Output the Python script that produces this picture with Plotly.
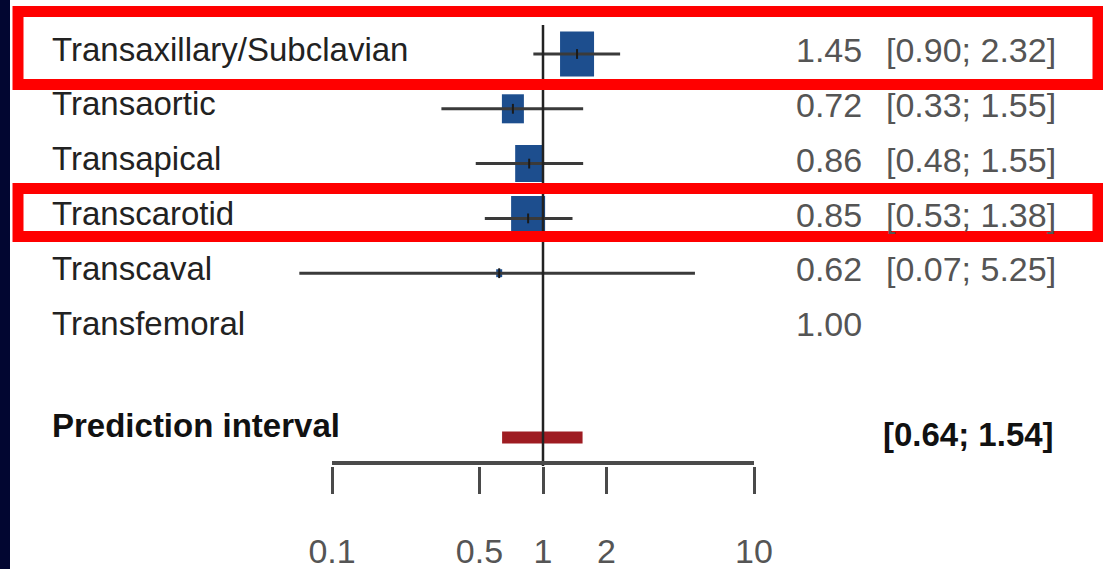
import plotly.graph_objects as go

# ---------------- data ----------------
labels = ["Transaxillary/Subclavian", "Transaortic", "Transapical",
          "Transcarotid", "Transcaval", "Transfemoral"]
est = [1.45, 0.72, 0.86, 0.85, 0.62, 1.00]
ci_lo = [0.90, 0.33, 0.48, 0.53, 0.07, None]
ci_hi = [2.32, 1.55, 1.55, 1.38, 5.25, None]
est_text = ["1.45", "0.72", "0.86", "0.85", "0.62", "1.00"]
ci_text = ["[0.90; 2.32]", "[0.33; 1.55]", "[0.48; 1.55]",
           "[0.53; 1.38]", "[0.07; 5.25]", ""]
weights = [34, 22, 28, 34, 6, 0]          # relative square size
pi_label = "Prediction interval"
pi_lo = 0.64
pi_hi = 1.54
pi_text = "[0.64; 1.54]"
tick_vals = [0.1, 0.5, 1, 2, 10]
tick_text = ["0.1", "0.5", "1", "2", "10"]
highlight_rows = [0, 3]

# ---------------- layout helpers ----------------
W, H = 1103, 569
ROW0, STEP = 54.0, 54.8        # pixel y of first row, row spacing
PLOT_BOT = 466.0               # bottom of plot area (x axis)
PI_ROW = 7
DEC = 211.0                    # pixels per decade on the log axis

def py(px):                    # pixel y -> row coordinate
    return (px - ROW0) / STEP

def pfx(px):                   # pixel x -> paper x
    return px / W

def pfy(px):                   # pixel y -> paper y
    return 1 - px / H

FONT = "Liberation Sans, Arial, Helvetica, sans-serif"
rows = list(range(len(labels)))

fig = go.Figure()

# whiskers
wx, wy = [], []
for i, (l, h) in enumerate(zip(ci_lo, ci_hi)):
    if l is None:
        continue
    wx += [l, h, None]
    wy += [i, i, None]
fig.add_trace(go.Scatter(x=wx, y=wy, mode="lines",
                         line=dict(color="#3a3a3a", width=3),
                         hoverinfo="skip", showlegend=False))
# centre ticks
cx = [e for e, w in zip(est, weights) if w > 0]
cy = [i for i, w in zip(rows, weights) if w > 0]
fig.add_trace(go.Scatter(x=cx, y=cy, mode="markers",
                         marker=dict(symbol="line-ns", size=7,
                                     line=dict(color="#1a1a1a", width=2)),
                         hoverinfo="skip", showlegend=False))
# reference line at 1
fig.add_trace(go.Scatter(x=[1, 1], y=[py(25), py(PLOT_BOT)], mode="lines",
                         line=dict(color="#222222", width=2.5),
                         hoverinfo="skip", showlegend=False))
# axis baseline
fig.add_trace(go.Scatter(x=[tick_vals[0], tick_vals[-1]],
                         y=[py(PLOT_BOT - 3), py(PLOT_BOT - 3)], mode="lines",
                         line=dict(color="#4a4a4a", width=4),
                         hoverinfo="skip", showlegend=False))

shapes = []
# squares (size from weights, converted from pixels to the log scale)
for i, (e, w) in enumerate(zip(est, weights)):
    if w <= 0:
        continue
    f = 10 ** (w / 2 / DEC)
    hgt = w * 1.32
    shapes.append(dict(type="rect", xref="x", yref="y", ysizemode="pixel",
                       yanchor=i, x0=e / f, x1=e * f,
                       y0=-hgt / 2, y1=hgt / 2,
                       fillcolor="#1d4e8e", line=dict(width=0), layer="below"))
# prediction interval bar
shapes.append(dict(type="rect", xref="x", yref="y", ysizemode="pixel",
                   yanchor=PI_ROW, x0=pi_lo, x1=pi_hi, y0=-6, y1=6,
                   fillcolor="#9e1c22", line=dict(width=0), layer="below"))
# dark slide border on the left
shapes.append(dict(type="rect", xref="paper", yref="paper",
                   x0=0, x1=pfx(10), y0=0, y1=1,
                   fillcolor="#020631", line=dict(width=0), layer="above"))
# red highlight boxes
boxes = {0: (11.5, 84.5), 3: (188.5, 236.5)}
for r in highlight_rows:
    t, b = boxes[r]
    shapes.append(dict(type="rect", xref="paper", yref="paper",
                       x0=pfx(18), x1=pfx(1098), y0=pfy(b), y1=pfy(t),
                       line=dict(color="#ff0000", width=11),
                       fillcolor="rgba(0,0,0,0)", layer="above"))

ann = []
for i in rows:
    ann.append(dict(x=pfx(50), xref="paper", y=i - 0.09, yref="y",
                    text=labels[i], showarrow=False, xanchor="left",
                    yanchor="middle",
                    font=dict(family=FONT, size=33, color="#222222")))
    ann.append(dict(x=pfx(864), xref="paper", y=i - 0.07, yref="y",
                    text=est_text[i], showarrow=False, xanchor="right",
                    yanchor="middle",
                    font=dict(family=FONT, size=34, color="#555555")))
    if ci_text[i]:
        ann.append(dict(x=pfx(1058), xref="paper", y=i - 0.07, yref="y",
                        text=ci_text[i], showarrow=False, xanchor="right",
                        yanchor="middle",
                        font=dict(family=FONT, size=34, color="#555555")))
ann.append(dict(x=pfx(50), xref="paper", y=PI_ROW - 0.22, yref="y",
                text="<b>%s</b>" % pi_label, showarrow=False, xanchor="left",
                yanchor="middle",
                font=dict(family=FONT, size=33, color="#111111")))
ann.append(dict(x=pfx(1056), xref="paper", y=PI_ROW - 0.06, yref="y",
                text="<b>%s</b>" % pi_text, showarrow=False, xanchor="right",
                yanchor="middle",
                font=dict(family=FONT, size=33, color="#111111")))

x_lo = -1 - 332 / DEC
x_hi = x_lo + W / DEC

fig.update_layout(
    width=W, height=H, margin=dict(l=0, r=0, t=0, b=0, autoexpand=False),
    paper_bgcolor="white", plot_bgcolor="white",
    shapes=shapes, annotations=ann,
    xaxis=dict(type="log", range=[x_lo, x_hi], domain=[0, 1],
               automargin=False,
               showgrid=False, zeroline=False, showline=False,
               ticks="outside", ticklen=27, tickwidth=3, tickcolor="#4a4a4a",
               tickvals=tick_vals, ticktext=tick_text,
               ticklabelstandoff=28,
               tickfont=dict(family=FONT, size=34, color="#555555")),
    yaxis=dict(range=[py(PLOT_BOT), py(0)], domain=[pfy(PLOT_BOT), 1],
               automargin=False,
               showgrid=False, zeroline=False, showline=False,
               showticklabels=False, ticks=""),
)

fig.write_html("out.html", config={"displayModeBar": False},
               post_script="document.body.style.margin='0';"
                           "document.body.style.overflow='hidden';")
